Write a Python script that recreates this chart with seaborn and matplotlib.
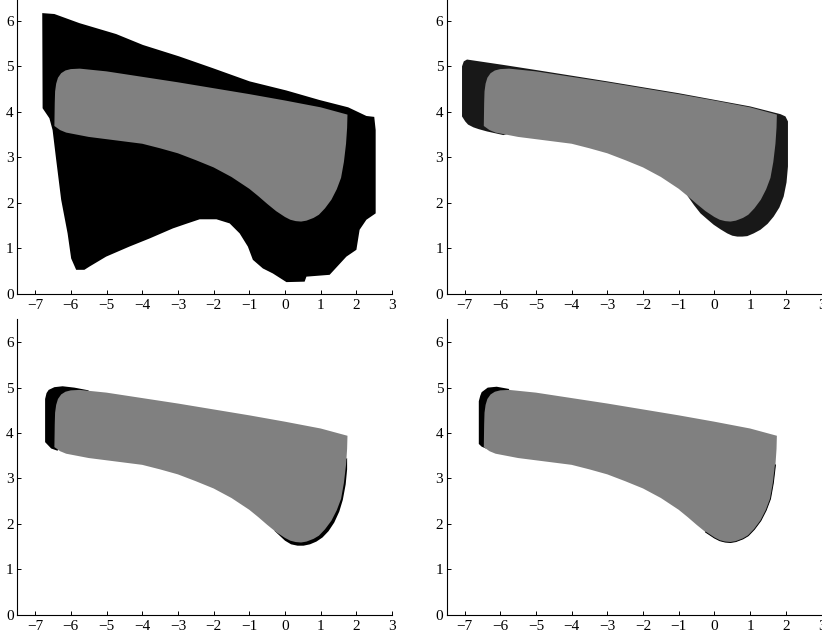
import matplotlib.pyplot as plt
import seaborn as sns

# gray set (same in every panel), outline
gray_x = [-6.46, -6.30, -6.13, -5.5, -5.0, -4.5, -4.0, -3.5, -3.0, -2.5, -2.0, -1.5, -1.0,
          -0.75, -0.5, -0.25, 0.0, 0.15, 0.3, 0.45, 0.6, 0.8, 0.95, 1.12, 1.3, 1.45, 1.57,
          1.65, 1.71, 1.74, 1.75, 1.0, 0.0, -1.0, -2.0, -3.0, -4.0, -5.0, -5.5, -5.75, -6.0,
          -6.15, -6.27, -6.36, -6.41, -6.44, -6.45]
gray_y = [3.69, 3.60, 3.545, 3.45, 3.40, 3.35, 3.30, 3.20, 3.09, 2.94, 2.78, 2.57, 2.31,
          2.15, 1.98, 1.82, 1.69, 1.63, 1.60, 1.59, 1.61, 1.67, 1.74, 1.88, 2.07, 2.30, 2.55,
          2.90, 3.30, 3.65, 3.94, 4.10, 4.25, 4.39, 4.52, 4.65, 4.77, 4.89, 4.93, 4.95, 4.94,
          4.91, 4.85, 4.75, 4.62, 4.45, 4.20]

# panel 1: coarse outer box paving
p1_x = [-6.80, -6.46, -5.76, -4.73, -3.98, -2.97, -2.02, -0.99, 0.04, 0.97, 1.77, 2.28, 2.50,
        2.54, 2.54, 2.28, 2.09, 2.00, 1.72, 1.25, 0.60, 0.55, 0.04, -0.34, -0.62, -0.90, -1.04,
        -1.27, -1.55, -1.92, -2.39, -2.77, -3.14, -3.79, -4.36, -5.01, -5.48, -5.62, -5.85,
        -5.99, -6.09, -6.27, -6.41, -6.51, -6.60, -6.79]
p1_y = [6.17, 6.15, 5.95, 5.71, 5.47, 5.22, 4.96, 4.67, 4.47, 4.26, 4.10, 3.91, 3.89,
        3.60, 1.77, 1.63, 1.41, 0.97, 0.82, 0.42, 0.38, 0.27, 0.26, 0.45, 0.56, 0.75, 1.04,
        1.33, 1.55, 1.64, 1.64, 1.54, 1.44, 1.22, 1.04, 0.82, 0.60, 0.53, 0.53,
        0.78, 1.33, 2.07, 2.95, 3.60, 3.86, 4.08]

# panel 2: finer outer approximation
p2_x = [-7.07, -7.07, -7.02, -6.93, -5.9, -5.0, -3.0, -1.0, 1.0, 1.85, 1.99, 2.06, 2.06, 2.02,
        1.94, 1.82, 1.66, 1.49, 1.29, 1.10, 0.92, 0.78, 0.64, 0.50, 0.36, 0.17, -0.02, -0.20,
        -0.39, -0.57, -0.75, -1.0, -5.0, -5.91, -6.37, -6.60, -6.75, -6.90, -6.98]
p2_y = [3.90, 5.00, 5.11, 5.15, 5.03, 4.92, 4.67, 4.41, 4.12, 3.95, 3.90, 3.79, 2.80, 2.45,
        2.14, 1.90, 1.70, 1.54, 1.41, 1.33, 1.27, 1.26, 1.26, 1.28, 1.33, 1.42, 1.52, 1.64,
        1.77, 1.95, 2.15, 3.00, 3.70, 3.49, 3.57, 3.62, 3.66, 3.72, 3.79]

# panel 3: left crescent and lower sliver
p3a_x = [-6.72, -6.72, -6.68, -6.62, -6.46, -6.23, -5.9, -5.5, -5.6, -6.2, -6.37, -6.55]
p3a_y = [3.80, 4.75, 4.88, 4.95, 5.01, 5.03, 5.00, 4.94, 4.60, 4.00, 3.61, 3.66]
p3b_x = [-0.3, 0.0, 0.17, 0.35, 0.52, 0.7, 0.88, 1.05, 1.22, 1.38, 1.52, 1.62, 1.70, 1.74, 1.74,
         1.0, 0.0]
p3b_y = [1.85, 1.63, 1.55, 1.52, 1.52, 1.55, 1.61, 1.70, 1.84, 2.03, 2.27, 2.53, 2.87, 3.20,
         3.45, 3.00, 2.00]

# panel 4: left crescent only, thin dark edge below
p4_x = [-6.60, -6.60, -6.56, -6.52, -6.35, -6.1, -5.75, -5.8, -6.2, -6.40, -6.52]
p4_y = [3.76, 4.70, 4.82, 4.90, 5.00, 5.02, 4.97, 4.60, 4.00, 3.66, 3.70]
edge_x = [-0.25, 0.0, 0.15, 0.3, 0.45, 0.6, 0.8, 0.95, 1.12, 1.3, 1.45, 1.57, 1.65, 1.71]
edge_y = [1.82, 1.69, 1.63, 1.60, 1.59, 1.61, 1.67, 1.74, 1.88, 2.07, 2.30, 2.55, 2.90, 3.30]

sns.set_theme(style="ticks")
plt.rcParams["font.family"] = ["Liberation Serif", "DejaVu Serif"]

fig = plt.figure(figsize=(8.22, 6.39), dpi=100)
boxes = [[0.021, 0.540, 0.456, 0.463], [0.5434, 0.540, 0.456, 0.463],
         [0.021, 0.038, 0.456, 0.462], [0.5434, 0.038, 0.456, 0.462]]
axes = [fig.add_axes(b) for b in boxes]

axes[0].fill(p1_x, p1_y, color="black", lw=0)
axes[1].fill(p2_x, p2_y, color="#181818", lw=0)
axes[2].fill(p3a_x, p3a_y, color="black", lw=0)
axes[2].fill(p3b_x, p3b_y, color="black", lw=0)
axes[3].fill(p4_x, p4_y, color="black", lw=0)
axes[3].plot(edge_x, edge_y, color="black", lw=0.7)

for ax in axes:
    ax.fill(gray_x, gray_y, color="#808080", lw=0)
    ax.set_xlim(-7.5, 3)
    ax.set_ylim(0, 6.5)
    ax.set_xticks(range(-7, 4))
    ax.set_yticks(range(0, 7))
    ax.set_facecolor("white")
    sns.despine(ax=ax)
    for s in ["left", "bottom"]:
        ax.spines[s].set_linewidth(0.8)
        ax.spines[s].set_color("black")
    ax.tick_params(axis="both", direction="in", length=3, width=0.7,
                   colors="black", labelsize=11)
    ax.tick_params(axis="x", pad=4)
    ax.tick_params(axis="y", pad=2.5)

fig.savefig("out.png", dpi=100)
